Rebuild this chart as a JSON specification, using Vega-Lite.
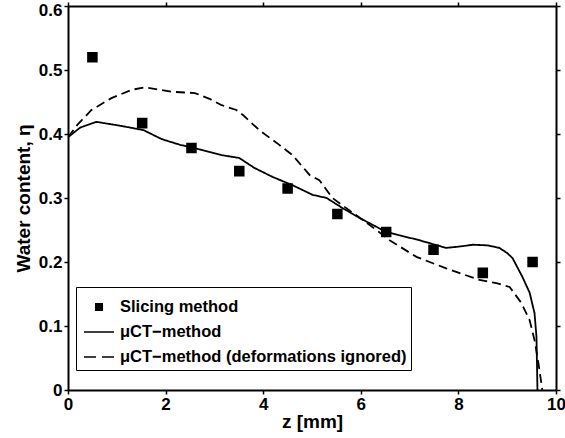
{
  "$schema": "https://vega.github.io/schema/vega-lite/v6.json",
  "width": 488,
  "height": 384,
  "autosize": "none",
  "padding": {"left": 68, "top": 6, "right": 9, "bottom": 48},
  "background": "white",
  "datasets": {
    "slices": [
      {"series": "Slicing method", "z": 0.5, "eta": 0.52},
      {"series": "Slicing method", "z": 1.52, "eta": 0.417},
      {"series": "Slicing method", "z": 2.53, "eta": 0.378},
      {"series": "Slicing method", "z": 3.51, "eta": 0.342},
      {"series": "Slicing method", "z": 4.5, "eta": 0.315},
      {"series": "Slicing method", "z": 5.52, "eta": 0.275},
      {"series": "Slicing method", "z": 6.52, "eta": 0.247},
      {"series": "Slicing method", "z": 7.49, "eta": 0.219},
      {"series": "Slicing method", "z": 8.5, "eta": 0.183},
      {"series": "Slicing method", "z": 9.52, "eta": 0.2}
    ],
    "lines": [
      {"series": "μCT−method", "z": 0, "eta": 0.395},
      {"series": "μCT−method", "z": 0.25, "eta": 0.41},
      {"series": "μCT−method", "z": 0.58, "eta": 0.419},
      {"series": "μCT−method", "z": 1.1, "eta": 0.4125},
      {"series": "μCT−method", "z": 1.55, "eta": 0.406},
      {"series": "μCT−method", "z": 1.92, "eta": 0.392},
      {"series": "μCT−method", "z": 2.3, "eta": 0.383},
      {"series": "μCT−method", "z": 2.7, "eta": 0.376},
      {"series": "μCT−method", "z": 3.15, "eta": 0.367},
      {"series": "μCT−method", "z": 3.51, "eta": 0.3625},
      {"series": "μCT−method", "z": 3.82, "eta": 0.347},
      {"series": "μCT−method", "z": 4.19, "eta": 0.333},
      {"series": "μCT−method", "z": 4.6, "eta": 0.32},
      {"series": "μCT−method", "z": 5.01, "eta": 0.305},
      {"series": "μCT−method", "z": 5.3, "eta": 0.3},
      {"series": "μCT−method", "z": 5.63, "eta": 0.284},
      {"series": "μCT−method", "z": 5.97, "eta": 0.269},
      {"series": "μCT−method", "z": 6.52, "eta": 0.247},
      {"series": "μCT−method", "z": 7.2, "eta": 0.234},
      {"series": "μCT−method", "z": 7.75, "eta": 0.222},
      {"series": "μCT−method", "z": 8.0, "eta": 0.224},
      {"series": "μCT−method", "z": 8.3, "eta": 0.227},
      {"series": "μCT−method", "z": 8.6, "eta": 0.226},
      {"series": "μCT−method", "z": 8.84, "eta": 0.222},
      {"series": "μCT−method", "z": 9.0, "eta": 0.214},
      {"series": "μCT−method", "z": 9.11, "eta": 0.206},
      {"series": "μCT−method", "z": 9.31, "eta": 0.177},
      {"series": "μCT−method", "z": 9.46, "eta": 0.152},
      {"series": "μCT−method", "z": 9.56, "eta": 0.12},
      {"series": "μCT−method", "z": 9.6, "eta": 0.083},
      {"series": "μCT−method", "z": 9.62, "eta": 0.0},
      {"series": "μCT−method (deformations ignored)", "z": 0, "eta": 0.395},
      {"series": "μCT−method (deformations ignored)", "z": 0.2, "eta": 0.415},
      {"series": "μCT−method (deformations ignored)", "z": 0.48, "eta": 0.4375},
      {"series": "μCT−method (deformations ignored)", "z": 0.89, "eta": 0.456},
      {"series": "μCT−method (deformations ignored)", "z": 1.3, "eta": 0.469},
      {"series": "μCT−method (deformations ignored)", "z": 1.57, "eta": 0.473},
      {"series": "μCT−method (deformations ignored)", "z": 2.12, "eta": 0.466},
      {"series": "μCT−method (deformations ignored)", "z": 2.6, "eta": 0.464},
      {"series": "μCT−method (deformations ignored)", "z": 2.9, "eta": 0.455},
      {"series": "μCT−method (deformations ignored)", "z": 3.15, "eta": 0.445},
      {"series": "μCT−method (deformations ignored)", "z": 3.45, "eta": 0.4375},
      {"series": "μCT−method (deformations ignored)", "z": 3.58, "eta": 0.43},
      {"series": "μCT−method (deformations ignored)", "z": 3.92, "eta": 0.406},
      {"series": "μCT−method (deformations ignored)", "z": 4.33, "eta": 0.383},
      {"series": "μCT−method (deformations ignored)", "z": 4.6, "eta": 0.367},
      {"series": "μCT−method (deformations ignored)", "z": 4.95, "eta": 0.336},
      {"series": "μCT−method (deformations ignored)", "z": 5.15, "eta": 0.328},
      {"series": "μCT−method (deformations ignored)", "z": 5.42, "eta": 0.3},
      {"series": "μCT−method (deformations ignored)", "z": 5.83, "eta": 0.277},
      {"series": "μCT−method (deformations ignored)", "z": 6.0, "eta": 0.268},
      {"series": "μCT−method (deformations ignored)", "z": 6.32, "eta": 0.25},
      {"series": "μCT−method (deformations ignored)", "z": 6.59, "eta": 0.234},
      {"series": "μCT−method (deformations ignored)", "z": 7.14, "eta": 0.208},
      {"series": "μCT−method (deformations ignored)", "z": 7.75, "eta": 0.19},
      {"series": "μCT−method (deformations ignored)", "z": 8.43, "eta": 0.172},
      {"series": "μCT−method (deformations ignored)", "z": 8.78, "eta": 0.167},
      {"series": "μCT−method (deformations ignored)", "z": 9.05, "eta": 0.161},
      {"series": "μCT−method (deformations ignored)", "z": 9.29, "eta": 0.136},
      {"series": "μCT−method (deformations ignored)", "z": 9.46, "eta": 0.109},
      {"series": "μCT−method (deformations ignored)", "z": 9.56, "eta": 0.078},
      {"series": "μCT−method (deformations ignored)", "z": 9.64, "eta": 0.042},
      {"series": "μCT−method (deformations ignored)", "z": 9.72, "eta": 0.0}
    ]
  },
  "layer": [
    {
      "data": {"name": "lines"},
      "mark": {"type": "line", "color": "black", "strokeWidth": 1.8, "clip": true},
      "encoding": {
        "x": {
          "field": "z", "type": "quantitative",
          "scale": {"domain": [0, 10], "nice": false},
          "axis": {
            "orient": "bottom",
            "values": [0, 2, 4, 6, 8, 10],
            "title": "z [mm]",
            "labelExpr": "datum.value == 0 ? '0' : format(datum.value, 'd')",
            "titlePadding": 0
          }
        },
        "y": {
          "field": "eta", "type": "quantitative",
          "scale": {"domain": [0, 0.6], "nice": false},
          "axis": {
            "orient": "left",
            "values": [0, 0.1, 0.2, 0.3, 0.4, 0.5, 0.6],
            "title": "Water content, η",
            "labelExpr": "datum.value == 0 ? '0' : format(datum.value, '.1f')",
            "titlePadding": 5,
            "labelOffset": {"condition": {"test": "datum.value > 0.55", "value": 4}, "value": 0}
          }
        },
        "strokeDash": {
          "field": "series", "type": "nominal",
          "scale": {"domain": ["μCT−method", "μCT−method (deformations ignored)"], "range": [[1, 0], [9, 5]]},
          "legend": null
        }
      }
    },
    {
      "data": {"name": "slices"},
      "mark": {"type": "point", "filled": true, "color": "black", "stroke": "black", "strokeWidth": 2, "opacity": 1, "size": 1500},
      "encoding": {
        "x": {"field": "z", "type": "quantitative", "scale": {"domain": [0, 10], "nice": false},
          "axis": {"orient": "top", "values": [0, 2, 4, 6, 8, 10], "labels": false, "title": null}},
        "y": {"field": "eta", "type": "quantitative", "scale": {"domain": [0, 0.6], "nice": false},
          "axis": {"orient": "right", "values": [0, 0.1, 0.2, 0.3, 0.4, 0.5, 0.6], "labels": false, "title": null}},
        "shape": {
          "field": "series", "type": "nominal",
          "scale": {
            "domain": ["Slicing method", "μCT−method", "μCT−method (deformations ignored)"],
            "range": ["M-0.22,-0.22H0.22V0.22H-0.22Z", "M-1,0H1", "M-1,0H-0.2M0.2,0H1"]
          },
          "legend": {
            "title": null,
            "orient": "none",
            "legendX": 8,
            "legendY": 281,
            "padding": 4,
            "strokeColor": "black",
            "symbolSize": 900,
            "symbolOffset": 3,
            "rowPadding": 0,
            "labelOffset": 5,
            "labelLimit": 500,
            "labelFont": "Liberation Sans",
            "labelFontSize": 16.5,
            "labelFontWeight": "bold",
            "labelColor": "black",
            "encode": {
              "legend": {"update": {"strokeWidth": {"value": 2}}},
              "symbols": {"update": {"stroke": {"value": "black"}, "strokeWidth": {"value": 2}, "fill": {"value": "black"}, "opacity": {"value": 1}}}
            }
          }
        }
      }
    }
  ],
  "resolve": {"axis": {"x": "independent", "y": "independent"}},
  "config": {
    "view": {"stroke": null},
    "axis": {
      "grid": false,
      "domainColor": "black",
      "domainWidth": 2,
      "tickColor": "black",
      "tickWidth": 1.5,
      "tickSize": 4,
      "labelFont": "Liberation Sans",
      "labelFontSize": 17,
      "labelFontWeight": "bold",
      "labelColor": "black",
      "labelPadding": 2,
      "labelFlush": false,
      "labelOverlap": false,
      "titleFont": "Liberation Sans",
      "titleFontSize": 19,
      "titleFontWeight": "bold",
      "titleColor": "black"
    }
  }
}
